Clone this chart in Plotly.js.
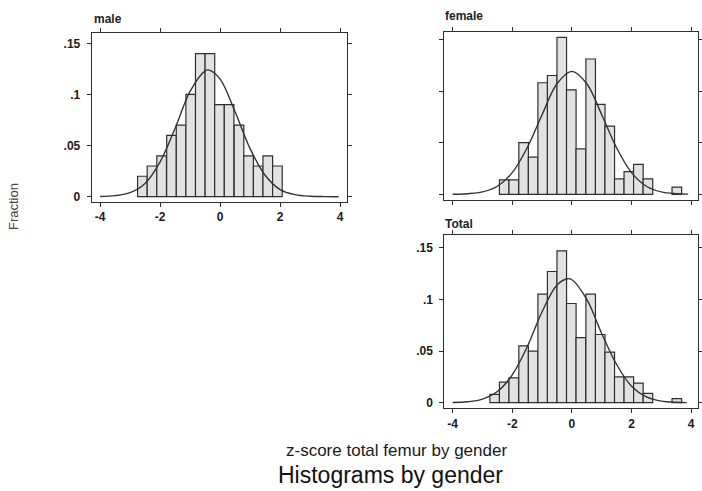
<!DOCTYPE html>
<html>
<head>
<meta charset="utf-8">
<script src="https://cdn.plot.ly/plotly-3.0.1.min.js"></script>
<style>html,body{margin:0;padding:0;background:#fff;}#chart{width:702px;height:491px;}</style>
</head>
<body>
<div id="chart"></div>
<script>
// ---- data ----
var binWidth = 0.3215;

var maleX = [-2.59, -2.27, -1.95, -1.62, -1.30, -0.98, -0.66, -0.34, -0.02, 0.30, 0.63, 0.95, 1.27, 1.59, 1.91];
var maleY = [0.020, 0.030, 0.040, 0.060, 0.070, 0.100, 0.140, 0.140, 0.090, 0.090, 0.070, 0.040, 0.030, 0.040, 0.030];

var femaleX = [-2.27, -1.95, -1.62, -1.30, -0.98, -0.66, -0.34, -0.02, 0.30, 0.63, 0.95, 1.27, 1.59, 1.91, 2.23, 2.55, 3.52];
var femaleY = [0.014, 0.014, 0.050, 0.036, 0.108, 0.115, 0.152, 0.101, 0.044, 0.131, 0.087, 0.066, 0.015, 0.022, 0.029, 0.015, 0.007];

var totalX = [-2.59, -2.27, -1.95, -1.62, -1.30, -0.98, -0.66, -0.34, -0.02, 0.30, 0.63, 0.95, 1.27, 1.59, 1.91, 2.23, 2.55, 3.52];
var totalY = [0.008, 0.020, 0.024, 0.055, 0.050, 0.105, 0.127, 0.147, 0.096, 0.063, 0.105, 0.066, 0.049, 0.025, 0.025, 0.019, 0.009, 0.004];

// fitted normal curves
var maleCurveX = [-4, -3.5, -3, -2.5, -2, -1.5, -1, -0.5, -0.39, 0, 0.5, 1, 1.5, 2, 2.5, 3, 3.5, 3.95];
var maleCurveY = [0.0002, 0.001, 0.004, 0.013, 0.034, 0.067, 0.103, 0.123, 0.124, 0.115, 0.083, 0.047, 0.021, 0.007, 0.002, 0.0004, 0.0001, 0];

var femaleCurveX = [-4, -3.5, -3, -2.5, -2, -1.5, -1, -0.5, 0, 0.5, 1, 1.5, 2, 2.5, 3, 3.5, 3.9];
var femaleCurveY = [0.0001, 0.0006, 0.0023, 0.0078, 0.021, 0.045, 0.077, 0.107, 0.119, 0.107, 0.077, 0.045, 0.021, 0.0078, 0.0023, 0.0006, 0.0002];

var totalCurveX = [-4, -3.5, -3, -2.5, -2, -1.5, -1, -0.5, -0.15, 0, 0.5, 1, 1.5, 2, 2.5, 3, 3.5, 3.85];
var totalCurveY = [0.0002, 0.0009, 0.0035, 0.0108, 0.027, 0.054, 0.088, 0.114, 0.120, 0.119, 0.100, 0.067, 0.037, 0.016, 0.0056, 0.0016, 0.0004, 0.0001];

var xTickVals = [-4, -2, 0, 2, 4];
var xTickText = ['-4', '-2', '0', '2', '4'];
var yTickVals = [0, 0.05, 0.1, 0.15];
var yTickText = ['0', '.05', '.1', '.15'];

var panelTitles = ['male', 'female', 'Total'];
var yAxisTitle = 'Fraction';
var xAxisTitle = 'z-score total femur by gender';
var chartTitle = 'Histograms by gender';

// ---- styling ----
var barFill = '#e2e2e2';
var edge = '#2e2e2e';
var FONT = 'Liberation Sans, Arial, sans-serif';

function barTrace(x, y, xa, ya) {
  return {type: 'bar', x: x, y: y, width: binWidth, xaxis: xa, yaxis: ya,
    marker: {color: barFill, line: {color: edge, width: 1.2}}, hoverinfo: 'skip', showlegend: false};
}
function curveTrace(x, y, xa, ya) {
  return {type: 'scatter', mode: 'lines', x: x, y: y, xaxis: xa, yaxis: ya,
    line: {color: '#333333', width: 1.4, shape: 'spline', smoothing: 1}, hoverinfo: 'skip', showlegend: false};
}

var data = [
  barTrace(maleX, maleY, 'x', 'y'), curveTrace(maleCurveX, maleCurveY, 'x', 'y'),
  barTrace(femaleX, femaleY, 'x2', 'y2'), curveTrace(femaleCurveX, femaleCurveY, 'x2', 'y2'),
  barTrace(totalX, totalY, 'x3', 'y3'), curveTrace(totalCurveX, totalCurveY, 'x3', 'y3')
];

var tickFont = {family: FONT, size: 12, color: '#1a1a1a', weight: 'bold'};

function xAxis(domain, anchor, labels) {
  return {domain: domain, anchor: anchor, range: [-4.28, 4.22], showgrid: false, zeroline: false,
    showline: true, mirror: 'ticks', linecolor: edge, linewidth: 1, ticks: 'outside', ticklen: 4,
    tickcolor: edge, tickwidth: 1, tickvals: xTickVals, ticktext: xTickText, showticklabels: labels,
    tickfont: tickFont, fixedrange: true};
}
function yAxis(domain, anchor, range, labels) {
  return {domain: domain, anchor: anchor, range: range, showgrid: false, zeroline: false,
    showline: true, mirror: 'ticks', linecolor: edge, linewidth: 1, ticks: 'outside', ticklen: 4,
    tickcolor: edge, tickwidth: 1, tickvals: yTickVals, ticktext: yTickText, showticklabels: labels,
    ticklabelstandoff: 4, tickfont: tickFont, fixedrange: true};
}

var W = 702, H = 491;
function dx(a, b) { return [a / W, b / W]; }
function dy(top, bottom) { return [1 - bottom / H, 1 - top / H]; }

var layout = {
  width: W, height: H, margin: {l: 0, r: 0, t: 0, b: 0},
  paper_bgcolor: '#ffffff', plot_bgcolor: '#ffffff',
  barmode: 'overlay', showlegend: false,
  font: {family: FONT, color: '#222'},
  xaxis: xAxis(dx(91.7, 346.7), 'y', true),
  yaxis: yAxis(dy(33, 201.7), 'x', [-0.0049, 0.1601], true),
  xaxis2: xAxis(dx(444.3, 697.7), 'y2', false),
  yaxis2: yAxis(dy(31.7, 200), 'x2', [-0.0055, 0.1574], false),
  xaxis3: xAxis(dx(444.3, 697.7), 'y3', true),
  yaxis3: yAxis(dy(235, 408.3), 'x3', [-0.0054, 0.1623], true),
  annotations: [
    {text: '<b>' + panelTitles[0] + '</b>', xref: 'paper', yref: 'paper', x: 92 / W, y: 1 - 19 / H,
      xanchor: 'left', yanchor: 'middle', showarrow: false, font: {family: FONT, size: 12, color: '#222'}},
    {text: '<b>' + panelTitles[1] + '</b>', xref: 'paper', yref: 'paper', x: 443 / W, y: 1 - 16 / H,
      xanchor: 'left', yanchor: 'middle', showarrow: false, font: {family: FONT, size: 12, color: '#222'}},
    {text: '<b>' + panelTitles[2] + '</b>', xref: 'paper', yref: 'paper', x: 443 / W, y: 1 - 224 / H,
      xanchor: 'left', yanchor: 'middle', showarrow: false, font: {family: FONT, size: 12, color: '#222'}},
    {text: yAxisTitle, xref: 'paper', yref: 'paper', x: 14 / W, y: 1 - 207 / H, textangle: -90,
      xanchor: 'center', yanchor: 'middle', showarrow: false, font: {family: FONT, size: 13, color: '#444'}},
    {text: xAxisTitle, xref: 'paper', yref: 'paper', x: 396 / W, y: 1 - 450 / H,
      xanchor: 'center', yanchor: 'middle', showarrow: false, font: {family: FONT, size: 17, color: '#1a1a1a'}},
    {text: chartTitle, xref: 'paper', yref: 'paper', x: 390 / W, y: 1 - 475 / H,
      xanchor: 'center', yanchor: 'middle', showarrow: false, font: {family: FONT, size: 23, color: '#111'}}
  ]
};

Plotly.newPlot('chart', data, layout, {staticPlot: true, displayModeBar: false});
</script>
</body>
</html>
